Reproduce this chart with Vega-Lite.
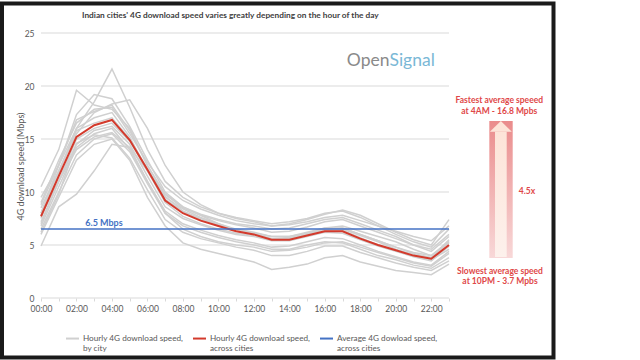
{
  "$schema": "https://vega.github.io/schema/vega-lite/v6.json",
  "width": 551.5,
  "height": 354,
  "autosize": {"type": "none"},
  "padding": {"left": 2, "top": 3.5, "right": 86.5, "bottom": 2.5},
  "background": "white",
  "title": {
    "text": "Indian cities' 4G download speed varies greatly depending on the hour of the day",
    "anchor": "start",
    "frame": "group",
    "dx": 80,
    "offset": -21,
    "baseline": "middle",
    "font": "Lato",
    "fontSize": 8.3,
    "fontWeight": "bold",
    "color": "#404040"
  },
  "datasets": {
    "grid": [
      {"h": 0, "h2": 23, "v": 0}, {"h": 0, "h2": 23, "v": 5}, {"h": 0, "h2": 23, "v": 10},
      {"h": 0, "h2": 23, "v": 15}, {"h": 0, "h2": 23, "v": 20}, {"h": 0, "h2": 23, "v": 25}
    ],
    "cities": [
      {"c":1,"h":0,"v":9.5},{"c":1,"h":1,"v":12.5},{"c":1,"h":2,"v":16.0},{"c":1,"h":3,"v":18.5},{"c":1,"h":4,"v":21.6},{"c":1,"h":5,"v":18.0},{"c":1,"h":6,"v":14.0},{"c":1,"h":7,"v":11.0},{"c":1,"h":8,"v":9.5},{"c":1,"h":9,"v":8.6},{"c":1,"h":10,"v":8.0},{"c":1,"h":11,"v":7.6},{"c":1,"h":12,"v":7.3},{"c":1,"h":13,"v":7.0},{"c":1,"h":14,"v":7.2},{"c":1,"h":15,"v":7.5},{"c":1,"h":16,"v":8.0},{"c":1,"h":17,"v":8.2},{"c":1,"h":18,"v":7.6},{"c":1,"h":19,"v":6.8},{"c":1,"h":20,"v":6.0},{"c":1,"h":21,"v":5.3},{"c":1,"h":22,"v":4.8},{"c":1,"h":23,"v":6.5},
      {"c":2,"h":0,"v":10.5},{"c":2,"h":1,"v":14.0},{"c":2,"h":2,"v":19.6},{"c":2,"h":3,"v":18.2},{"c":2,"h":4,"v":17.8},{"c":2,"h":5,"v":16.0},{"c":2,"h":6,"v":12.5},{"c":2,"h":7,"v":9.8},{"c":2,"h":8,"v":8.5},{"c":2,"h":9,"v":7.8},{"c":2,"h":10,"v":7.3},{"c":2,"h":11,"v":6.9},{"c":2,"h":12,"v":6.6},{"c":2,"h":13,"v":6.2},{"c":2,"h":14,"v":6.3},{"c":2,"h":15,"v":6.7},{"c":2,"h":16,"v":7.2},{"c":2,"h":17,"v":7.4},{"c":2,"h":18,"v":6.8},{"c":2,"h":19,"v":6.2},{"c":2,"h":20,"v":5.6},{"c":2,"h":21,"v":5.0},{"c":2,"h":22,"v":4.6},{"c":2,"h":23,"v":6.0},
      {"c":3,"h":0,"v":4.9},{"c":3,"h":1,"v":8.6},{"c":3,"h":2,"v":9.8},{"c":3,"h":3,"v":12.0},{"c":3,"h":4,"v":14.5},{"c":3,"h":5,"v":14.2},{"c":3,"h":6,"v":11.0},{"c":3,"h":7,"v":8.0},{"c":3,"h":8,"v":6.5},{"c":3,"h":9,"v":5.8},{"c":3,"h":10,"v":5.3},{"c":3,"h":11,"v":5.0},{"c":3,"h":12,"v":4.8},{"c":3,"h":13,"v":4.4},{"c":3,"h":14,"v":4.5},{"c":3,"h":15,"v":4.8},{"c":3,"h":16,"v":5.2},{"c":3,"h":17,"v":5.3},{"c":3,"h":18,"v":4.8},{"c":3,"h":19,"v":4.3},{"c":3,"h":20,"v":3.8},{"c":3,"h":21,"v":3.3},{"c":3,"h":22,"v":3.0},{"c":3,"h":23,"v":4.2},
      {"c":4,"h":0,"v":8.5},{"c":4,"h":1,"v":12.0},{"c":4,"h":2,"v":15.5},{"c":4,"h":3,"v":17.5},{"c":4,"h":4,"v":18.3},{"c":4,"h":5,"v":18.7},{"c":4,"h":6,"v":16.0},{"c":4,"h":7,"v":12.5},{"c":4,"h":8,"v":10.0},{"c":4,"h":9,"v":8.8},{"c":4,"h":10,"v":8.0},{"c":4,"h":11,"v":7.5},{"c":4,"h":12,"v":7.2},{"c":4,"h":13,"v":6.8},{"c":4,"h":14,"v":7.0},{"c":4,"h":15,"v":7.4},{"c":4,"h":16,"v":7.9},{"c":4,"h":17,"v":8.3},{"c":4,"h":18,"v":7.8},{"c":4,"h":19,"v":7.0},{"c":4,"h":20,"v":6.2},{"c":4,"h":21,"v":5.5},{"c":4,"h":22,"v":5.0},{"c":4,"h":23,"v":7.4},
      {"c":5,"h":0,"v":8.0},{"c":5,"h":1,"v":12.5},{"c":5,"h":2,"v":17.3},{"c":5,"h":3,"v":19.2},{"c":5,"h":4,"v":18.8},{"c":5,"h":5,"v":16.2},{"c":5,"h":6,"v":13.0},{"c":5,"h":7,"v":10.0},{"c":5,"h":8,"v":8.6},{"c":5,"h":9,"v":7.9},{"c":5,"h":10,"v":7.4},{"c":5,"h":11,"v":7.0},{"c":5,"h":12,"v":6.8},{"c":5,"h":13,"v":6.5},{"c":5,"h":14,"v":6.6},{"c":5,"h":15,"v":7.0},{"c":5,"h":16,"v":7.4},{"c":5,"h":17,"v":7.6},{"c":5,"h":18,"v":7.0},{"c":5,"h":19,"v":6.4},{"c":5,"h":20,"v":5.8},{"c":5,"h":21,"v":5.0},{"c":5,"h":22,"v":4.4},{"c":5,"h":23,"v":5.8},
      {"c":6,"h":0,"v":7.0},{"c":6,"h":1,"v":11.0},{"c":6,"h":2,"v":14.5},{"c":6,"h":3,"v":15.8},{"c":6,"h":4,"v":16.2},{"c":6,"h":5,"v":14.5},{"c":6,"h":6,"v":11.5},{"c":6,"h":7,"v":8.6},{"c":6,"h":8,"v":7.5},{"c":6,"h":9,"v":6.9},{"c":6,"h":10,"v":6.4},{"c":6,"h":11,"v":6.0},{"c":6,"h":12,"v":5.8},{"c":6,"h":13,"v":5.4},{"c":6,"h":14,"v":5.4},{"c":6,"h":15,"v":5.8},{"c":6,"h":16,"v":6.2},{"c":6,"h":17,"v":6.1},{"c":6,"h":18,"v":5.5},{"c":6,"h":19,"v":4.9},{"c":6,"h":20,"v":4.4},{"c":6,"h":21,"v":3.9},{"c":6,"h":22,"v":3.5},{"c":6,"h":23,"v":4.9},
      {"c":7,"h":0,"v":7.5},{"c":7,"h":1,"v":11.8},{"c":7,"h":2,"v":16.0},{"c":7,"h":3,"v":17.0},{"c":7,"h":4,"v":17.5},{"c":7,"h":5,"v":15.2},{"c":7,"h":6,"v":12.0},{"c":7,"h":7,"v":9.0},{"c":7,"h":8,"v":7.7},{"c":7,"h":9,"v":7.0},{"c":7,"h":10,"v":6.5},{"c":7,"h":11,"v":6.1},{"c":7,"h":12,"v":5.9},{"c":7,"h":13,"v":5.5},{"c":7,"h":14,"v":5.6},{"c":7,"h":15,"v":6.0},{"c":7,"h":16,"v":6.5},{"c":7,"h":17,"v":6.6},{"c":7,"h":18,"v":6.0},{"c":7,"h":19,"v":5.4},{"c":7,"h":20,"v":4.8},{"c":7,"h":21,"v":4.2},{"c":7,"h":22,"v":3.8},{"c":7,"h":23,"v":5.3},
      {"c":8,"h":0,"v":6.5},{"c":8,"h":1,"v":10.0},{"c":8,"h":2,"v":13.5},{"c":8,"h":3,"v":15.0},{"c":8,"h":4,"v":15.5},{"c":8,"h":5,"v":13.8},{"c":8,"h":6,"v":10.8},{"c":8,"h":7,"v":8.0},{"c":8,"h":8,"v":6.8},{"c":8,"h":9,"v":6.2},{"c":8,"h":10,"v":5.7},{"c":8,"h":11,"v":5.3},{"c":8,"h":12,"v":5.0},{"c":8,"h":13,"v":4.6},{"c":8,"h":14,"v":4.6},{"c":8,"h":15,"v":5.0},{"c":8,"h":16,"v":5.3},{"c":8,"h":17,"v":5.2},{"c":8,"h":18,"v":4.6},{"c":8,"h":19,"v":4.0},{"c":8,"h":20,"v":3.6},{"c":8,"h":21,"v":3.1},{"c":8,"h":22,"v":2.8},{"c":8,"h":23,"v":3.8},
      {"c":9,"h":0,"v":9.0},{"c":9,"h":1,"v":13.0},{"c":9,"h":2,"v":16.5},{"c":9,"h":3,"v":17.8},{"c":9,"h":4,"v":18.0},{"c":9,"h":5,"v":15.5},{"c":9,"h":6,"v":12.8},{"c":9,"h":7,"v":10.5},{"c":9,"h":8,"v":9.2},{"c":9,"h":9,"v":8.4},{"c":9,"h":10,"v":7.8},{"c":9,"h":11,"v":7.3},{"c":9,"h":12,"v":7.0},{"c":9,"h":13,"v":6.8},{"c":9,"h":14,"v":6.9},{"c":9,"h":15,"v":7.2},{"c":9,"h":16,"v":7.6},{"c":9,"h":17,"v":7.8},{"c":9,"h":18,"v":7.3},{"c":9,"h":19,"v":6.8},{"c":9,"h":20,"v":6.3},{"c":9,"h":21,"v":5.8},{"c":9,"h":22,"v":5.4},{"c":9,"h":23,"v":6.8},
      {"c":10,"h":0,"v":7.2},{"c":10,"h":1,"v":11.0},{"c":10,"h":2,"v":15.0},{"c":10,"h":3,"v":16.0},{"c":10,"h":4,"v":16.5},{"c":10,"h":5,"v":14.8},{"c":10,"h":6,"v":12.0},{"c":10,"h":7,"v":9.3},{"c":10,"h":8,"v":8.2},{"c":10,"h":9,"v":7.5},{"c":10,"h":10,"v":6.9},{"c":10,"h":11,"v":6.4},{"c":10,"h":12,"v":6.1},{"c":10,"h":13,"v":5.6},{"c":10,"h":14,"v":5.6},{"c":10,"h":15,"v":6.0},{"c":10,"h":16,"v":6.4},{"c":10,"h":17,"v":6.4},{"c":10,"h":18,"v":5.7},{"c":10,"h":19,"v":5.0},{"c":10,"h":20,"v":4.5},{"c":10,"h":21,"v":4.0},{"c":10,"h":22,"v":3.6},{"c":10,"h":23,"v":4.6},
      {"c":11,"h":0,"v":6.0},{"c":11,"h":1,"v":9.5},{"c":11,"h":2,"v":13.0},{"c":11,"h":3,"v":14.5},{"c":11,"h":4,"v":15.0},{"c":11,"h":5,"v":13.0},{"c":11,"h":6,"v":9.5},{"c":11,"h":7,"v":6.8},{"c":11,"h":8,"v":5.2},{"c":11,"h":9,"v":4.6},{"c":11,"h":10,"v":4.2},{"c":11,"h":11,"v":3.8},{"c":11,"h":12,"v":3.4},{"c":11,"h":13,"v":2.7},{"c":11,"h":14,"v":2.9},{"c":11,"h":15,"v":3.2},{"c":11,"h":16,"v":3.8},{"c":11,"h":17,"v":4.0},{"c":11,"h":18,"v":3.4},{"c":11,"h":19,"v":3.0},{"c":11,"h":20,"v":2.6},{"c":11,"h":21,"v":2.4},{"c":11,"h":22,"v":2.2},{"c":11,"h":23,"v":3.2},
      {"c":12,"h":0,"v":8.0},{"c":12,"h":1,"v":12.0},{"c":12,"h":2,"v":15.8},{"c":12,"h":3,"v":16.5},{"c":12,"h":4,"v":17.0},{"c":12,"h":5,"v":15.0},{"c":12,"h":6,"v":12.2},{"c":12,"h":7,"v":9.5},{"c":12,"h":8,"v":8.4},{"c":12,"h":9,"v":7.6},{"c":12,"h":10,"v":7.0},{"c":12,"h":11,"v":6.5},{"c":12,"h":12,"v":6.2},{"c":12,"h":13,"v":5.8},{"c":12,"h":14,"v":5.8},{"c":12,"h":15,"v":6.2},{"c":12,"h":16,"v":6.6},{"c":12,"h":17,"v":6.5},{"c":12,"h":18,"v":5.9},{"c":12,"h":19,"v":5.3},{"c":12,"h":20,"v":4.6},{"c":12,"h":21,"v":4.1},{"c":12,"h":22,"v":3.8},{"c":12,"h":23,"v":5.5},
      {"c":13,"h":0,"v":7.8},{"c":13,"h":1,"v":11.0},{"c":13,"h":2,"v":14.0},{"c":13,"h":3,"v":15.2},{"c":13,"h":4,"v":15.6},{"c":13,"h":5,"v":14.2},{"c":13,"h":6,"v":12.0},{"c":13,"h":7,"v":9.8},{"c":13,"h":8,"v":8.6},{"c":13,"h":9,"v":7.8},{"c":13,"h":10,"v":7.0},{"c":13,"h":11,"v":6.4},{"c":13,"h":12,"v":6.0},{"c":13,"h":13,"v":5.6},{"c":13,"h":14,"v":5.7},{"c":13,"h":15,"v":6.1},{"c":13,"h":16,"v":6.6},{"c":13,"h":17,"v":6.8},{"c":13,"h":18,"v":6.3},{"c":13,"h":19,"v":5.8},{"c":13,"h":20,"v":5.3},{"c":13,"h":21,"v":4.6},{"c":13,"h":22,"v":4.0},{"c":13,"h":23,"v":5.2},
      {"c":14,"h":0,"v":6.8},{"c":14,"h":1,"v":10.5},{"c":14,"h":2,"v":14.2},{"c":14,"h":3,"v":15.5},{"c":14,"h":4,"v":16.0},{"c":14,"h":5,"v":14.0},{"c":14,"h":6,"v":11.0},{"c":14,"h":7,"v":8.2},{"c":14,"h":8,"v":7.0},{"c":14,"h":9,"v":6.4},{"c":14,"h":10,"v":5.9},{"c":14,"h":11,"v":5.5},{"c":14,"h":12,"v":5.2},{"c":14,"h":13,"v":4.8},{"c":14,"h":14,"v":4.9},{"c":14,"h":15,"v":5.3},{"c":14,"h":16,"v":5.7},{"c":14,"h":17,"v":5.6},{"c":14,"h":18,"v":5.0},{"c":14,"h":19,"v":4.4},{"c":14,"h":20,"v":3.9},{"c":14,"h":21,"v":3.4},{"c":14,"h":22,"v":3.1},{"c":14,"h":23,"v":4.4},
      {"c":15,"h":0,"v":8.8},{"c":15,"h":1,"v":12.6},{"c":15,"h":2,"v":16.8},{"c":15,"h":3,"v":17.6},{"c":15,"h":4,"v":18.2},{"c":15,"h":5,"v":15.8},{"c":15,"h":6,"v":12.5},{"c":15,"h":7,"v":9.6},{"c":15,"h":8,"v":8.2},{"c":15,"h":9,"v":7.4},{"c":15,"h":10,"v":6.8},{"c":15,"h":11,"v":6.4},{"c":15,"h":12,"v":6.1},{"c":15,"h":13,"v":5.8},{"c":15,"h":14,"v":5.8},{"c":15,"h":15,"v":6.1},{"c":15,"h":16,"v":6.5},{"c":15,"h":17,"v":6.6},{"c":15,"h":18,"v":6.0},{"c":15,"h":19,"v":5.4},{"c":15,"h":20,"v":4.8},{"c":15,"h":21,"v":4.3},{"c":15,"h":22,"v":4.0},{"c":15,"h":23,"v":5.4},
      {"c":16,"h":0,"v":6.2},{"c":16,"h":1,"v":9.8},{"c":16,"h":2,"v":14.6},{"c":16,"h":3,"v":15.4},{"c":16,"h":4,"v":15.1},{"c":16,"h":5,"v":13.2},{"c":16,"h":6,"v":10.2},{"c":16,"h":7,"v":7.4},{"c":16,"h":8,"v":6.2},{"c":16,"h":9,"v":5.6},{"c":16,"h":10,"v":5.2},{"c":16,"h":11,"v":4.8},{"c":16,"h":12,"v":4.5},{"c":16,"h":13,"v":4.0},{"c":16,"h":14,"v":4.0},{"c":16,"h":15,"v":4.4},{"c":16,"h":16,"v":4.9},{"c":16,"h":17,"v":4.9},{"c":16,"h":18,"v":4.3},{"c":16,"h":19,"v":3.8},{"c":16,"h":20,"v":3.3},{"c":16,"h":21,"v":2.9},{"c":16,"h":22,"v":2.6},{"c":16,"h":23,"v":3.5}
    ],
    "avg": [
      {"h":0,"v":7.7},{"h":1,"v":11.5},{"h":2,"v":15.2},{"h":3,"v":16.3},{"h":4,"v":16.8},{"h":5,"v":14.9},{"h":6,"v":12.1},{"h":7,"v":9.2},{"h":8,"v":8.0},{"h":9,"v":7.3},{"h":10,"v":6.8},{"h":11,"v":6.3},{"h":12,"v":6.0},{"h":13,"v":5.5},{"h":14,"v":5.5},{"h":15,"v":5.9},{"h":16,"v":6.3},{"h":17,"v":6.3},{"h":18,"v":5.6},{"h":19,"v":5.0},{"h":20,"v":4.5},{"h":21,"v":4.0},{"h":22,"v":3.7},{"h":23,"v":5.0}
    ],
    "overall": [{"h": 0, "h2": 23, "v": 6.5}]
  },
  "encoding": {
    "x": {
      "field": "h",
      "type": "quantitative",
      "scale": {"domain": [-2.199, 28.891], "nice": false, "zero": false},
      "axis": {
        "values": [0,1,2,3,4,5,6,7,8,9,10,11,12,13,14,15,16,17,18,19,20,21,22,23],
        "labelExpr": "datum.value % 2 == 0 ? (datum.value < 10 ? '0' : '') + datum.value + ':00' : ''",
        "offset": -59.5,
        "domain": false,
        "grid": false,
        "ticks": true,
        "tickSize": 3,
        "tickColor": "#d9d9d9",
        "labelPadding": 3.5,
        "labelFlush": false,
        "labelOverlap": false,
        "title": null
      }
    },
    "y": {
      "field": "v",
      "type": "quantitative",
      "scale": {"domain": [-5.613, 27.783], "nice": false, "zero": false},
      "axis": {
        "values": [0, 5, 10, 15, 20, 25],
        "offset": -38,
        "domain": false,
        "ticks": false,
        "grid": false,
        "labelPadding": 6,
        "title": "4G download speed (Mbps)",
        "titleX": -20,
        "titleY": 162.5,
        "titleAngle": -90,
        "titleAlign": "center",
        "titleBaseline": "middle",
        "titleFontWeight": "normal",
        "titleFontSize": 9,
        "titleColor": "#595959"
      }
    }
  },
  "layer": [
    {
      "data": {"name": "grid"},
      "mark": {"type": "rule", "color": "#d9d9d9", "strokeWidth": 1},
      "encoding": {"x2": {"field": "h2"}}
    },
    {
      "data": {"name": "cities"},
      "mark": {"type": "line", "strokeWidth": 1.5},
      "encoding": {
        "detail": {"field": "c", "type": "nominal"},
        "color": {
          "datum": "Hourly 4G download speed,|by city",
          "scale": {
            "domain": ["Hourly 4G download speed,|by city", "Hourly 4G download speed,|across cities", "Average 4G dowload speed,|across cities"],
            "range": ["#d0d0d0", "#d33a2c", "#4472c4"]
          },
          "legend": {
            "orient": "none",
            "legendX": 63,
            "legendY": 327.5,
            "direction": "horizontal",
            "title": null,
            "labelExpr": "split(datum.label, '|')",
            "symbolType": "stroke",
            "symbolStrokeWidth": 2,
            "symbolSize": 169,
            "labelFontSize": 8.2,
            "labelColor": "#595959",
            "labelOffset": 3,
            "labelLimit": 300,
            "columnPadding": 5,
            "padding": 0
          }
        }
      }
    },
    {
      "data": {"name": "avg"},
      "mark": {"type": "line", "strokeWidth": 2},
      "encoding": {"color": {"datum": "Hourly 4G download speed,|across cities"}}
    },
    {
      "data": {"name": "overall"},
      "mark": {"type": "rule", "strokeWidth": 1.5},
      "encoding": {"x2": {"field": "h2"}, "color": {"datum": "Average 4G dowload speed,|across cities"}}
    },
    {
      "data": {"values": [{"h": 3.55, "v": 7.1, "t": "6.5 Mbps"}]},
      "mark": {"type": "text", "color": "#4472c4", "fontSize": 9, "fontWeight": "bold", "baseline": "middle", "align": "center"},
      "encoding": {"text": {"field": "t"}}
    },
    {
      "data": {"values": [{"h": 19.646, "v": 21.887, "t": "Open"}]},
      "mark": {"type": "text", "color": "#8a8a8a", "fontSize": 17.5, "baseline": "alphabetic", "align": "right"},
      "encoding": {"text": {"field": "t"}}
    },
    {
      "data": {"values": [{"h": 19.646, "v": 21.887, "t": "Signal"}]},
      "mark": {"type": "text", "color": "#7ab8d6", "fontSize": 17.5, "baseline": "alphabetic", "align": "left"},
      "encoding": {"text": {"field": "t"}}
    },
    {
      "data": {"values": [{"h": 25.272, "h2": 26.591, "v": 16.698, "v2": 3.774}]},
      "mark": {
        "type": "rect",
        "fill": {"gradient": "linear", "x1": 0, "y1": 0, "x2": 0, "y2": 1, "stops": [{"offset": 0, "color": "#ea8c8c"}, {"offset": 1, "color": "#f8d8d8"}]}
      },
      "encoding": {"x2": {"field": "h2"}, "y2": {"field": "v2"}}
    },
    {
      "data": {"values": [{"h": 25.594, "h2": 26.253, "v": 15.689, "v2": 3.868}]},
      "mark": {
        "type": "rect",
        "fill": {"gradient": "linear", "x1": 0, "y1": 0, "x2": 0, "y2": 1, "stops": [{"offset": 0, "color": "#fde4d8"}, {"offset": 1, "color": "#fdf1ec"}]}
      },
      "encoding": {"x2": {"field": "h2"}, "y2": {"field": "v2"}}
    },
    {
      "data": {"values": [{"h": 25.923, "v": 16.193}]},
      "mark": {"type": "point", "shape": "M0,-0.49L1,0.49L-1,0.49Z", "size": 484, "filled": true, "fill": "#fde4d8", "strokeWidth": 0, "opacity": 1}
    },
    {
      "data": {"values": [
        {"h": 25.836, "v": 18.679, "t": "Fastest average speeed"},
        {"h": 25.836, "v": 17.67, "t": "at 4AM - 16.8 Mpbs"},
        {"h": 25.875, "v": 2.547, "t": "Slowest average speed"},
        {"h": 25.875, "v": 1.575, "t": "at 10PM - 3.7 Mpbs"},
        {"h": 27.397, "v": 10.094, "t": "4.5x"}
      ]},
      "mark": {"type": "text", "color": "#e04848", "fontSize": 8.5, "fontWeight": "bold", "baseline": "middle", "align": "center"},
      "encoding": {"text": {"field": "t"}}
    }
  ],
  "config": {
    "font": "Lato",
    "view": {"stroke": "#1a1a1a", "strokeWidth": 4},
    "axis": {"labelFontSize": 8.5, "labelColor": "#595959", "labelFont": "Lato", "titleFont": "Lato"},
    "legend": {"labelFont": "Lato"},
    "text": {"font": "Lato"}
  }
}
